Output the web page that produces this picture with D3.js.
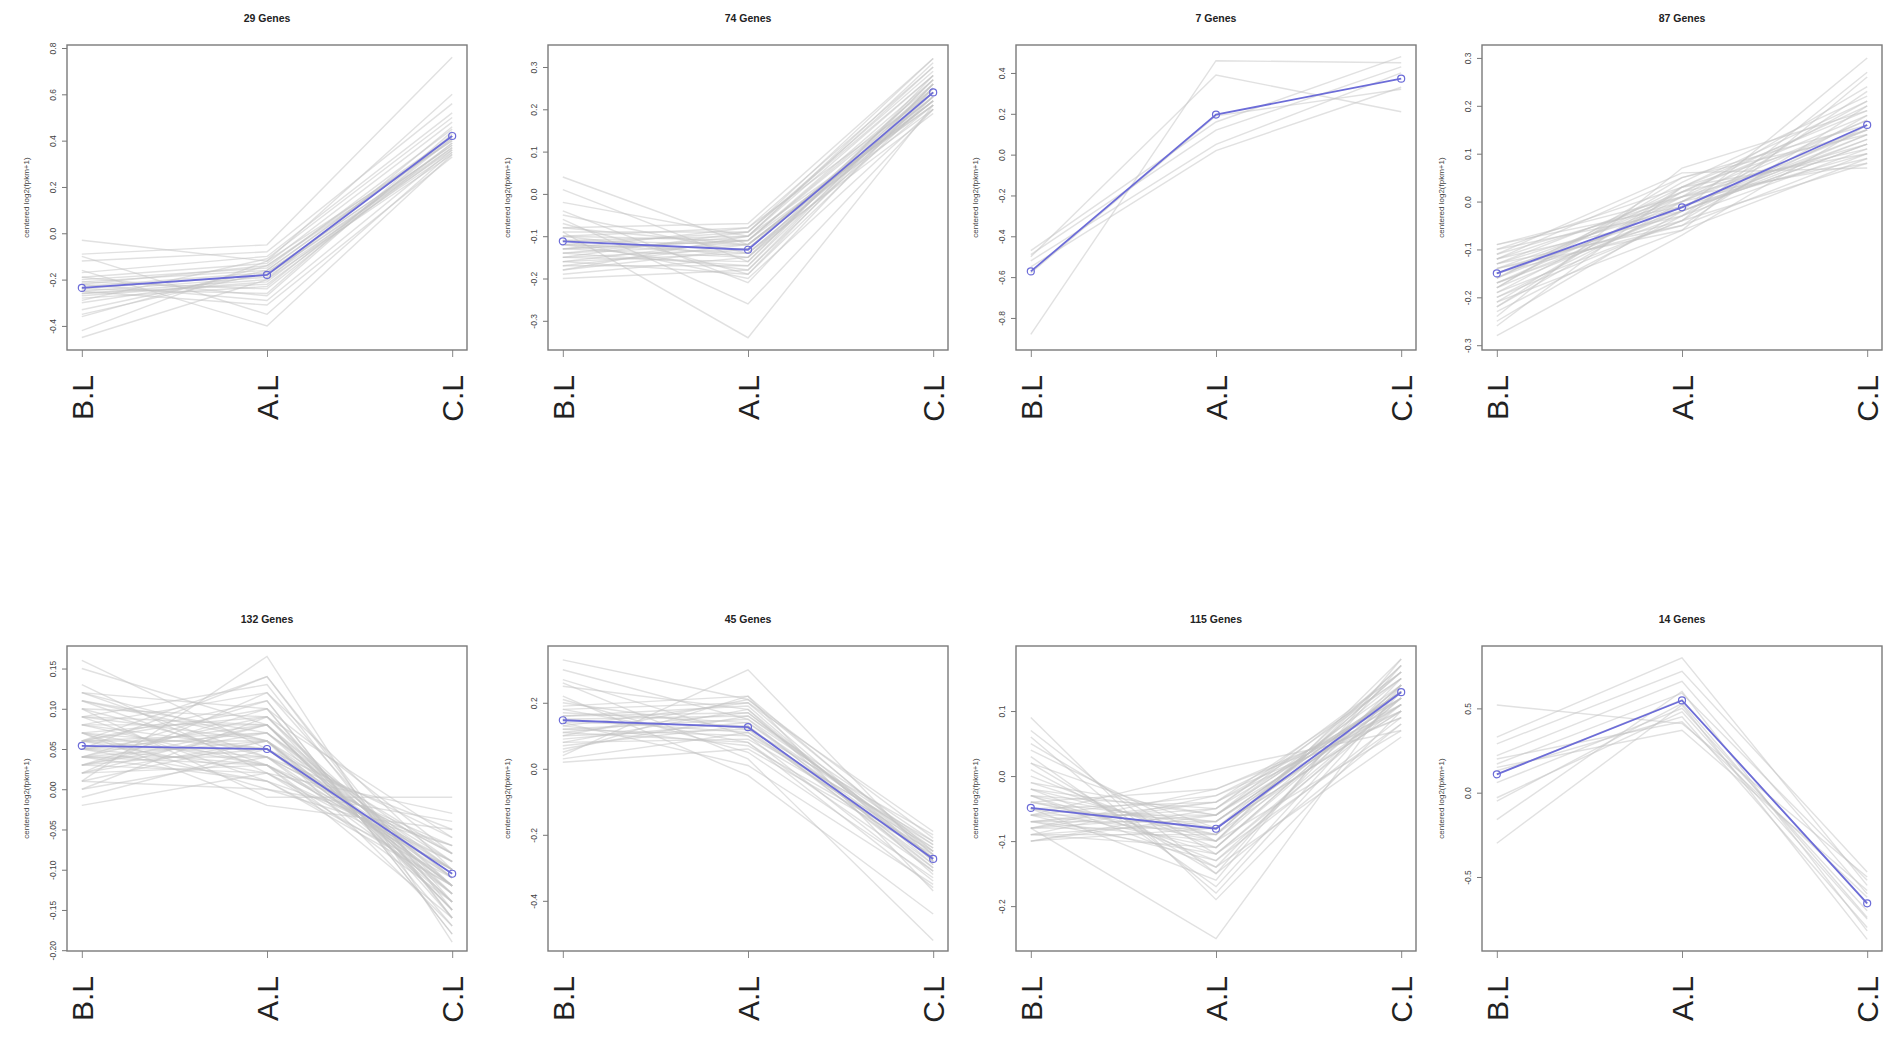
<!DOCTYPE html>
<html>
<head>
<meta charset="utf-8">
<script src="https://cdn.jsdelivr.net/npm/d3@7"></script>
<style>
body { margin: 0; background: #fff; }
</style>
</head>
<body>
<div id="chart"></div>
<script>
// stages on the x axis
var stages = ["B.L", "A.L", "C.L"];

var titles = ["29 Genes", "74 Genes", "7 Genes", "87 Genes", "132 Genes", "45 Genes", "115 Genes", "14 Genes"];

// y limits of each panel (as drawn)
var yLims = [[-0.504, 0.813], [-0.369, 0.352], [-0.957, 0.537], [-0.310, 0.327],
             [-0.201, 0.178], [-0.552, 0.372], [-0.269, 0.200], [-0.939, 0.870]];

var yTicks = [[-0.4, -0.2, 0, 0.2, 0.4, 0.6, 0.8],
              [-0.3, -0.2, -0.1, 0, 0.1, 0.2, 0.3],
              [-0.8, -0.6, -0.4, -0.2, 0, 0.2, 0.4],
              [-0.3, -0.2, -0.1, 0, 0.1, 0.2, 0.3],
              [-0.20, -0.15, -0.10, -0.05, 0, 0.05, 0.10, 0.15],
              [-0.4, -0.2, 0, 0.2],
              [-0.2, -0.1, 0, 0.1],
              [-0.5, 0, 0.5]];
var tickDigits = [1, 1, 1, 1, 2, 1, 1, 1];

// blue centroid line of each cluster
var centroids = [[-0.236, -0.180, 0.420], [-0.112, -0.132, 0.240], [-0.572, 0.196, 0.372], [-0.150, -0.012, 0.160],
                 [0.054, 0.050, -0.105], [0.147, 0.126, -0.273], [-0.049, -0.081, 0.129], [0.109, 0.547, -0.656]];

// individual gene profiles (B.L, A.L, C.L)
var genes29 = [
  [-0.03, -0.12, 0.60], [-0.09, -0.05, 0.76], [-0.12, -0.08, 0.56], [-0.17, -0.10, 0.52], [-0.19, -0.13, 0.48],
  [-0.20, -0.15, 0.45], [-0.21, -0.16, 0.42], [-0.22, -0.14, 0.40], [-0.23, -0.17, 0.38], [-0.24, -0.18, 0.36],
  [-0.25, -0.19, 0.35], [-0.26, -0.20, 0.34], [-0.26, -0.22, 0.37], [-0.27, -0.21, 0.39], [-0.28, -0.23, 0.41],
  [-0.24, -0.26, 0.44], [-0.22, -0.29, 0.36], [-0.25, -0.31, 0.33], [-0.35, -0.17, 0.38], [-0.36, -0.14, 0.42],
  [-0.42, -0.12, 0.40], [-0.45, -0.20, 0.46], [-0.16, -0.40, 0.34], [-0.10, -0.35, 0.35], [-0.21, -0.24, 0.39],
  [-0.19, -0.27, 0.43], [-0.30, -0.18, 0.37], [-0.33, -0.16, 0.41], [-0.29, -0.11, 0.50]
];
var genes74 = [
  [0.04, -0.12, 0.22], [0.01, -0.16, 0.26], [-0.02, -0.10, 0.30], [-0.04, -0.21, 0.25], [-0.06, -0.26, 0.20],
  [-0.08, -0.07, 0.32], [-0.09, -0.09, 0.28], [-0.10, -0.08, 0.24], [-0.10, -0.11, 0.27], [-0.11, -0.12, 0.23],
  [-0.11, -0.10, 0.21], [-0.12, -0.13, 0.25], [-0.12, -0.09, 0.29], [-0.12, -0.14, 0.22], [-0.13, -0.11, 0.26],
  [-0.13, -0.15, 0.24], [-0.14, -0.12, 0.20], [-0.14, -0.10, 0.31], [-0.15, -0.13, 0.23], [-0.15, -0.16, 0.27],
  [-0.16, -0.11, 0.25], [-0.16, -0.14, 0.19], [-0.17, -0.12, 0.22], [-0.17, -0.17, 0.28], [-0.18, -0.13, 0.24],
  [-0.19, -0.15, 0.21], [-0.20, -0.18, 0.26], [-0.09, -0.34, 0.21], [-0.07, -0.19, 0.23], [-0.13, -0.08, 0.30],
  [-0.11, -0.20, 0.20], [-0.14, -0.17, 0.25], [-0.10, -0.15, 0.27], [-0.08, -0.12, 0.22], [-0.12, -0.18, 0.24],
  [-0.15, -0.09, 0.32], [-0.18, -0.10, 0.28], [-0.05, -0.14, 0.23], [-0.16, -0.19, 0.26], [-0.13, -0.11, 0.21]
];
var genes7 = [
  [-0.88, 0.46, 0.45], [-0.50, 0.39, 0.21], [-0.47, 0.16, 0.48], [-0.49, 0.12, 0.43],
  [-0.52, 0.05, 0.40], [-0.55, 0.02, 0.33], [-0.58, 0.19, 0.32]
];
var genes87 = [
  [-0.09, 0.01, 0.12], [-0.10, 0.03, 0.10], [-0.10, -0.02, 0.14], [-0.11, 0.00, 0.09], [-0.12, 0.05, 0.16],
  [-0.12, -0.03, 0.11], [-0.13, -0.01, 0.13], [-0.13, 0.02, 0.18], [-0.14, -0.04, 0.08], [-0.14, 0.00, 0.15],
  [-0.15, -0.02, 0.12], [-0.15, 0.01, 0.17], [-0.15, -0.05, 0.20], [-0.16, -0.01, 0.14], [-0.16, 0.03, 0.19],
  [-0.17, -0.03, 0.16], [-0.17, 0.00, 0.21], [-0.18, -0.02, 0.13], [-0.18, 0.04, 0.22], [-0.19, -0.04, 0.18],
  [-0.19, 0.01, 0.24], [-0.20, -0.01, 0.15], [-0.21, 0.02, 0.20], [-0.21, -0.06, 0.26], [-0.22, 0.00, 0.17],
  [-0.23, -0.03, 0.23], [-0.24, 0.07, 0.19], [-0.25, -0.02, 0.30], [-0.26, 0.03, 0.21], [-0.28, -0.07, 0.16],
  [-0.11, 0.06, 0.07], [-0.13, -0.05, 0.10], [-0.16, 0.02, 0.11], [-0.14, -0.06, 0.09], [-0.18, 0.05, 0.14],
  [-0.20, -0.04, 0.27], [-0.12, 0.01, 0.08], [-0.17, -0.02, 0.12], [-0.22, 0.03, 0.15], [-0.09, -0.01, 0.10]
];
var genes132 = [
  [0.16, 0.05, -0.12], [0.15, 0.08, -0.15], [0.13, 0.02, -0.10], [0.12, 0.06, -0.14], [0.12, 0.10, -0.08],
  [0.11, 0.03, -0.16], [0.11, 0.07, -0.11], [0.10, 0.04, -0.13], [0.10, 0.09, -0.06], [0.09, 0.01, -0.12],
  [0.09, 0.06, -0.17], [0.08, 0.03, -0.09], [0.08, 0.08, -0.14], [0.08, 0.12, -0.10], [0.07, 0.05, -0.12],
  [0.07, 0.00, -0.07], [0.07, 0.09, -0.15], [0.06, 0.04, -0.11], [0.06, 0.07, -0.13], [0.06, 0.02, -0.09],
  [0.06, 0.11, -0.18], [0.05, 0.05, -0.10], [0.05, 0.08, -0.12], [0.05, 0.03, -0.14], [0.05, 0.14, -0.16],
  [0.04, 0.06, -0.08], [0.04, 0.01, -0.11], [0.04, 0.09, -0.13], [0.04, 0.04, -0.05], [0.03, 0.07, -0.10],
  [0.03, 0.02, -0.12], [0.03, 0.10, -0.17], [0.03, 0.05, -0.09], [0.02, 0.08, -0.11], [0.02, 0.03, -0.07],
  [0.02, 0.12, -0.14], [0.01, 0.06, -0.10], [0.01, 0.00, -0.04], [0.00, 0.04, -0.08], [0.00, 0.09, -0.12],
  [-0.01, 0.05, -0.06], [-0.02, 0.02, -0.03], [0.01, 0.165, -0.19], [0.06, 0.14, -0.15], [0.09, 0.13, -0.16],
  [0.10, -0.01, -0.01], [0.07, -0.02, -0.05], [0.12, 0.04, -0.08], [0.04, 0.11, -0.18], [0.06, 0.06, -0.13],
  [0.05, 0.07, -0.09], [0.08, 0.05, -0.11], [0.03, 0.08, -0.15], [0.07, 0.03, -0.10], [0.02, 0.06, -0.12],
  [0.05, 0.01, -0.07], [0.09, 0.08, -0.14], [0.04, 0.03, -0.10], [0.06, 0.10, -0.16], [0.11, 0.06, -0.12]
];
var genes45 = [
  [0.33, 0.21, -0.25], [0.30, 0.15, -0.30], [0.27, 0.10, -0.22], [0.25, 0.18, -0.28], [0.21, 0.05, -0.33],
  [0.20, 0.12, -0.20], [0.19, 0.22, -0.26], [0.18, 0.08, -0.36], [0.17, 0.14, -0.24], [0.16, 0.19, -0.29],
  [0.15, 0.11, -0.27], [0.15, 0.16, -0.22], [0.14, 0.13, -0.31], [0.13, 0.07, -0.25], [0.13, 0.20, -0.28],
  [0.12, 0.15, -0.23], [0.12, 0.10, -0.34], [0.11, 0.17, -0.26], [0.10, 0.12, -0.30], [0.10, 0.21, -0.21],
  [0.09, 0.14, -0.27], [0.08, 0.09, -0.24], [0.08, 0.18, -0.32], [0.07, 0.13, -0.29], [0.06, 0.16, -0.25],
  [0.05, 0.22, -0.37], [0.04, 0.30, -0.28], [0.03, 0.11, -0.23], [0.02, 0.06, -0.26], [0.22, -0.02, -0.44],
  [0.26, 0.03, -0.52], [0.14, 0.01, -0.35], [0.18, 0.20, -0.19], [0.11, 0.08, -0.31], [0.16, 0.17, -0.27]
];
var genes115 = [
  [0.09, -0.19, 0.10], [0.07, -0.15, 0.08], [0.05, -0.12, 0.12], [0.04, -0.10, 0.07], [0.03, -0.17, 0.14],
  [0.02, -0.08, 0.10], [0.01, -0.14, 0.06], [0.00, -0.11, 0.13], [-0.01, -0.06, 0.16], [-0.02, -0.13, 0.09],
  [-0.02, -0.09, 0.11], [-0.03, -0.05, 0.15], [-0.03, -0.12, 0.08], [-0.04, -0.07, 0.13], [-0.04, -0.10, 0.17],
  [-0.05, -0.04, 0.12], [-0.05, -0.08, 0.10], [-0.05, -0.11, 0.14], [-0.06, -0.06, 0.11], [-0.06, -0.09, 0.16],
  [-0.06, -0.03, 0.09], [-0.07, -0.07, 0.13], [-0.07, -0.10, 0.18], [-0.07, -0.05, 0.12], [-0.08, -0.08, 0.15],
  [-0.08, -0.04, 0.10], [-0.08, -0.06, 0.14], [-0.09, -0.09, 0.17], [-0.09, -0.03, 0.11], [-0.09, -0.07, 0.13],
  [-0.10, -0.05, 0.16], [-0.10, -0.08, 0.12], [-0.06, 0.01, 0.07], [-0.04, -0.02, 0.09], [-0.08, -0.25, 0.14],
  [-0.05, -0.16, 0.18], [-0.03, -0.14, 0.15], [-0.07, -0.12, 0.11], [-0.02, -0.06, 0.13], [-0.09, -0.11, 0.14],
  [-0.06, -0.13, 0.12], [-0.04, -0.09, 0.16], [-0.08, -0.02, 0.10], [-0.05, -0.07, 0.11], [-0.07, -0.04, 0.15],
  [0.06, -0.18, 0.13], [0.02, -0.15, 0.17], [-0.01, -0.10, 0.14], [-0.03, -0.08, 0.12], [-0.10, -0.06, 0.13]
];
var genes14 = [
  [0.52, 0.41, -0.50], [0.33, 0.80, -0.55], [0.29, 0.72, -0.47], [0.22, 0.66, -0.60], [0.17, 0.59, -0.52],
  [0.11, 0.55, -0.66], [0.06, 0.50, -0.70], [-0.03, 0.48, -0.75], [-0.16, 0.60, -0.82], [-0.30, 0.52, -0.87],
  [0.20, 0.42, -0.62], [0.15, 0.37, -0.58], [0.13, 0.45, -0.80], [-0.05, 0.53, -0.74]
];
var geneSets = [genes29, genes74, genes7, genes87, genes132, genes45, genes115, genes14];

var colLeft = [67, 548, 1016, 1482],
    rowTop = [45, 646],
    boxW = 400,
    boxH = 305,
    blue = "#6c6cd8";

var svg = d3.select("#chart")
    .append("svg")
    .attr("width", 1902)
    .attr("height", 1040)
    .style("font-family", "'Liberation Sans', Arial, sans-serif");

titles.forEach(function(title, i) {
    var g = svg.append("g")
        .attr("transform", "translate(" + colLeft[i % 4] + "," + rowTop[Math.floor(i / 4)] + ")");

    var x = d3.scalePoint().domain(stages).range([0, boxW]).padding(0.08);
    var y = d3.scaleLinear().domain(yLims[i]).range([boxH, 0]);
    var line = d3.line()
        .x(function(d, k) { return x(stages[k]); })
        .y(function(d) { return y(d); });

    g.selectAll(".gene")
        .data(geneSets[i])
        .enter()
        .append("path")
        .attr("class", "gene")
        .attr("d", line)
        .attr("fill", "none")
        .attr("stroke", "#c4c4c4")
        .attr("stroke-opacity", 0.5)
        .attr("stroke-width", 1.4);

    g.append("path")
        .attr("d", line(centroids[i]))
        .attr("fill", "none")
        .attr("stroke", blue)
        .attr("stroke-width", 1.8);

    g.selectAll(".pt")
        .data(centroids[i])
        .enter()
        .append("circle")
        .attr("cx", function(d, k) { return x(stages[k]); })
        .attr("cy", function(d) { return y(d); })
        .attr("r", 3.5)
        .attr("fill", "none")
        .attr("stroke", blue)
        .attr("stroke-width", 1.2);

    // y axis
    var yAxis = g.append("g")
        .call(d3.axisLeft(y)
            .tickValues(yTicks[i])
            .tickSize(5)
            .tickFormat(function(d) { return d.toFixed(tickDigits[i]); }));
    yAxis.select(".domain").remove();
    yAxis.selectAll("line").attr("stroke", "#777");
    yAxis.selectAll("text")
        .attr("x", 0)
        .attr("dy", null)
        .attr("transform", "translate(-11,0) rotate(-90)")
        .attr("text-anchor", "middle")
        .attr("fill", "#444")
        .style("font-size", "8.5px");

    // x axis
    var xAxis = g.append("g")
        .attr("transform", "translate(0," + boxH + ")")
        .call(d3.axisBottom(x).tickSize(7));
    xAxis.select(".domain").remove();
    xAxis.selectAll("line").attr("stroke", "#888");
    xAxis.selectAll("text")
        .attr("x", 0)
        .attr("y", 0)
        .attr("dy", "0.35em")
        .attr("transform", "translate(0,25) rotate(-90)")
        .attr("text-anchor", "end")
        .attr("fill", "#222")
        .style("font-size", "30px");

    // frame
    g.append("rect")
        .attr("width", boxW)
        .attr("height", boxH)
        .attr("fill", "none")
        .attr("stroke", "#7a7a7a")
        .attr("stroke-width", 1.4);

    g.append("text")
        .attr("x", boxW / 2)
        .attr("y", -23)
        .attr("text-anchor", "middle")
        .attr("font-weight", "bold")
        .attr("fill", "#222")
        .style("font-size", "10.5px")
        .text(title);

    g.append("text")
        .attr("transform", "translate(-38," + boxH / 2 + ") rotate(-90)")
        .attr("text-anchor", "middle")
        .attr("fill", "#444")
        .style("font-size", "8px")
        .text("centered log2(fpkm+1)");
});
</script>
</body>
</html>
